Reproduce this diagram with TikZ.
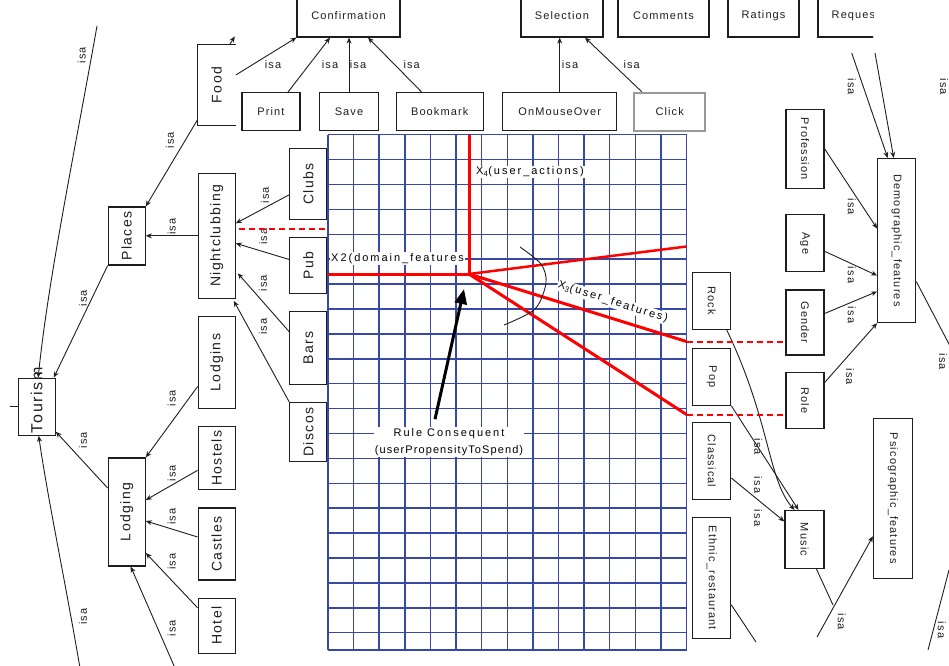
\documentclass[tikz,border=0pt]{standalone}
\usepackage{fontspec}
\setmainfont{Liberation Sans}[LetterSpace=10]
\newfontfamily\gridfont{Liberation Sans}[LetterSpace=18]
\usetikzlibrary{calc,arrows.meta}
\definecolor{gridblue}{RGB}{55,72,165}
\definecolor{ink}{RGB}{30,30,30}
\begin{document}
\begin{tikzpicture}[x=1pt,y=-1pt,
  box/.style={draw=ink, line width=1.2pt, inner sep=0pt, font=\fontsize{11}{13}\selectfont, text=ink},
  lbox/.style={box, font=\fontsize{14}{16}\selectfont},
  isa/.style={draw=ink, line width=0.9pt, -{Stealth[length=6pt,width=5pt]}},
  plain/.style={draw=ink, line width=0.9pt},
  lab/.style={font=\fontsize{11}{12}\selectfont, text=ink, inner sep=1pt},
  labl/.style={lab, rotate=90},
  labr/.style={lab, rotate=-90},
  redl/.style={draw=red, line width=3pt},
  reddash/.style={draw=red, line width=2pt, dash pattern=on 6pt off 4pt},
  gline/.style={draw=gridblue, line width=1.5pt},
  glab/.style={font=\gridfont\fontsize{11}{17}\selectfont, inner sep=1pt, fill=white, text=black}]

\useasboundingbox (0,0) rectangle (949,665);

% ---------- grid ----------
\foreach \i in {0,...,14} \draw[gline] ({328+\i*25.61},134.7) -- ({328+\i*25.61},650);
\foreach \j in {0,...,20} \draw[gline] (328,{134.7+\j*24.9}) -- (686.5,{134.7+\j*24.9});
\draw[gline] (328,650) -- (686.5,650);

% ---------- top row ----------
\node[box, minimum width=103pt, minimum height=42pt] (conf) at (348.5,16) {Confirmation};
\node[box, minimum width=82pt, minimum height=42pt] (sel) at (562,16) {Selection};
\node[box, minimum width=91pt, minimum height=42pt] (comm) at (663.5,16) {Comments};
\node[box, minimum width=71pt, minimum height=42pt] (rat) at (763.5,16) {Ratings};
\begin{scope}
  \clip (800,-5) rectangle (873,60);
  \node[box, minimum width=75pt, minimum height=42pt] (req) at (855.5,16) {Request};
\end{scope}

\node[box, minimum width=58pt, minimum height=38pt] (print) at (271,111.7) {Print};
\node[box, minimum width=59pt, minimum height=38pt] (save) at (349,111.7) {Save};
\node[box, minimum width=87pt, minimum height=38pt] (book) at (439.7,111.7) {Bookmark};
\node[box, minimum width=114pt, minimum height=38pt] (omo) at (559.7,111.7) {OnMouseOver};
\node[box, draw=gray!80, line width=2pt, minimum width=71pt, minimum height=38pt] (click) at (669.7,111.7) {Click};

% ---------- left side ----------
\node[lbox, draw=none, minimum width=37pt, minimum height=80pt] (food) at (216.7,85) {\rotatebox{90}{Food}};
\draw[ink, line width=1.2pt] (food.north east) -- (food.north west) -- (food.south west) -- (food.south east);
\node[lbox, minimum width=37pt, minimum height=58pt] (places) at (126.7,236) {\rotatebox{90}{Places}};
\node[lbox, minimum width=37pt, minimum height=125pt] (night) at (216.7,235.8) {\rotatebox{90}{Nightclubbing}};
\node[lbox, minimum width=37pt, minimum height=71pt] (clubs) at (308.3,183.8) {\rotatebox{90}{Clubs}};
\node[lbox, minimum width=37pt, minimum height=56pt] (pub) at (308.3,265.5) {\rotatebox{90}{Pub}};
\node[lbox, minimum width=37pt, minimum height=73pt] (bars) at (308.3,347.7) {\rotatebox{90}{Bars}};
\node[lbox, minimum width=37pt, minimum height=59pt] (discos) at (308.3,432) {\rotatebox{90}{Discos}};
\node[lbox, minimum width=37pt, minimum height=92pt] (lodgins) at (216.7,362.5) {\rotatebox{90}{Lodgins}};
\node[lbox, minimum width=37pt, minimum height=63pt] (hostels) at (216.7,458.3) {\rotatebox{90}{Hostels}};
\node[lbox, minimum width=37pt, minimum height=72pt] (castles) at (216.7,544) {\rotatebox{90}{Castles}};
\node[lbox, minimum width=37pt, minimum height=55pt] (hotel) at (216.7,625.8) {\rotatebox{90}{Hotel}};
\node[lbox, minimum width=37pt, minimum height=108pt] (lodging) at (126.7,512) {\rotatebox{90}{Lodging}};
\node[lbox, font=\fontsize{16}{18}\selectfont, minimum width=37pt, minimum height=57pt] (tourism) at (36.7,406.7) {\rotatebox{90}{\makebox[0pt]{\hspace{13pt}Tourism}}};

% ---------- right side ----------
\node[box, minimum width=38pt, minimum height=79pt] (prof) at (805,148.8) {\rotatebox{-90}{Profession}};
\node[box, minimum width=38pt, minimum height=57pt] (age) at (805,243.3) {\rotatebox{-90}{Age}};
\node[box, minimum width=38pt, minimum height=65pt] (gender) at (805,322.5) {\rotatebox{-90}{Gender}};
\node[box, minimum width=38pt, minimum height=56pt] (role) at (805,400.5) {\rotatebox{-90}{Role}};
\node[box, minimum width=38pt, minimum height=164pt] (demo) at (896.7,240.5) {\rotatebox{-90}{Demographic\_features}};
\node[box, minimum width=38pt, minimum height=57pt] (rock) at (711.7,300.8) {\rotatebox{-90}{Rock}};
\node[box, minimum width=38pt, minimum height=57pt] (pop) at (711.7,376.7) {\rotatebox{-90}{Pop}};
\node[box, minimum width=38pt, minimum height=77pt] (classical) at (711.7,461) {\rotatebox{-90}{Classical}};
\node[box, minimum width=38pt, minimum height=121pt] (ethnic) at (711.7,577.8) {\rotatebox{-90}{Ethnic\_restaurant}};
\node[box, minimum width=39pt, minimum height=58pt] (music) at (804.5,539.5) {\rotatebox{-90}{Music}};
\node[box, minimum width=39pt, minimum height=160pt] (psico) at (893,498.3) {\rotatebox{-90}{Psicographic\_features}};

% ---------- top connectors ----------
\draw[isa] ($(food.east)+(0,-10)$) -- (conf.south west);
\draw[isa] ($(food.north east)+(-6,0)$) -- ++(5,-8);
\draw[isa] ($(print.north)+(17,0)$) -- ($(conf.south)+(-18.5,0)$);
\draw[isa] (save.north) -- (save.north |- conf.south);
\draw[isa] ($(book.north)+(-18,0)$) -- ($(conf.south)+(19.5,0)$);
\draw[isa] (omo.north) -- (omo.north |- sel.south);
\draw[isa] ($(click.north)+(-28,0)$) -- ($(sel.south)+(23,0)$);
\node[lab] (t1) at (273,65) {isa};
\node[lab] (t2) at (330,65) {isa};
\node[lab] (t3) at (358,65) {isa};
\node[lab] (t4) at (411.7,65) {isa};
\node[lab] (t5) at (570,65) {isa};
\node[lab] (t6) at (631.7,65) {isa};

% ---------- left connectors ----------
\draw[isa] ($(food.south west)+(0,-6)$) -- (places.north east);
\draw[isa] (night.west) -- (night.west -| places.east);
\draw[isa] ($(clubs.west)+(0,11)$) -- ($(night.east)+(0,-12.5)$);
\draw[isa] ($(pub.west)+(0,-6)$) -- ($(night.east)+(0,7.5)$);
\draw[isa] ($(bars.west)+(0,-16)$) -- ($(night.east)+(2,37.5)$);
\draw[isa] (discos.north west) -- ($(night.south east)+(-2,2)$);
\draw[isa] ($(lodgins.west)+(0,24)$) -- (lodging.north east);
\draw[isa] ($(hostels.west)+(0,12)$) -- ($(lodging.east)+(0,-12)$);
\draw[isa] ($(castles.west)+(0,-7)$) -- ($(lodging.east)+(0,9)$);
\draw[isa] ($(hotel.west)+(0,-18)$) -- ($(lodging.east)+(0,41)$);
\coordinate (lb) at (175,668);
\draw[isa] (lb) -- ($(lodging.south)+(4,0)$);
\draw[isa] (places.south west) -- ($(tourism.north east)+(-2,0)$);
\draw[isa] ($(lodging.west)+(0,-24)$) -- ($(tourism.east)+(0,25)$);
\coordinate (tt) at (97,26);
\draw[isa] (tt) .. controls (75,150) and (48,280) .. ($(tourism.north)+(1.5,0)$);
\coordinate (tb) at (80,668);
\draw[isa] (tb) .. controls (65,580) and (48,500) .. ($(tourism.south)+(2,0)$);
\draw[plain] (tourism.west) -- ++(-8,0);

\node[labl] (u1) at (170,140) {isa};
\node[labl] (u2) at (171.7,226.7) {isa};
\node[labl] (u3) at (265,195) {isa};
\node[labl] (u4) at (263.3,236.7) {isa};
\node[labl] (u5) at (263,283) {isa};
\node[labl] (u6) at (263,326.7) {isa};
\node[labl] (u7) at (171.7,398.3) {isa};
\node[labl] (u8) at (171.7,473) {isa};
\node[labl] (u9) at (171.7,516.7) {isa};
\node[labl] (u10) at (171.7,561.7) {isa};
\node[labl] (u11) at (171.7,628) {isa};
\node[labl] (u12) at (83,298) {isa};
\node[labl] (u13) at (83,440) {isa};
\node[labl] (u14) at (81.7,55) {isa};
\node[labl] (u15) at (83,616.7) {isa};

% ---------- right connectors ----------
\draw[isa] (prof.east) -- ($(demo.west)+(0,-12)$);
\draw[isa] ($(age.east)+(0,8)$) -- ($(demo.west)+(0,35)$);
\draw[isa] ($(gender.east)+(0,-9)$) -- ($(demo.west)+(0,51)$);
\draw[isa] ($(role.east)+(0,-18)$) -- (demo.south west);
\coordinate (dt1) at (851.7,53);
\coordinate (dt2) at (875,53);
\draw[isa] (dt1) -- ($(demo.north)+(-9,0)$);
\draw[isa] (dt2) -- ($(demo.north)+(-3,0)$);
\coordinate (dr) at (950,346);
\draw[plain] ($(demo.east)+(0,41)$) -- (dr);
\draw[isa] ($(rock.south)+(15,0)$) .. controls (770,420) and (768,480) .. ($(music.north)+(-10,0)$);
\draw[isa] (pop.south east) -- ($(music.north)+(-6,0)$);
\draw[isa] ($(classical.east)+(0,17)$) -- ($(music.west)+(0,-18)$);
\coordinate (mb) at (833,605);
\draw[plain] ($(music.south)+(12,0)$) -- (mb);
\coordinate (pb) at (817,637);
\draw[isa] (pb) -- ($(psico.west)+(0,38)$);
\coordinate (eb) at (756,642);
\draw[plain] ($(ethnic.east)+(0,27)$) -- (eb);
\coordinate (rb1) at (949,570);
\coordinate (rb2) at (928,650);
\draw[plain] (rb1) -- (rb2);

\node[labr] (v1) at (851.7,206.7) {isa};
\node[labr] (v2) at (851.7,275) {isa};
\node[labr] (v3) at (851.7,315) {isa};
\node[labr] (v4) at (850,376.7) {isa};
\node[labr] (v5) at (851.7,86.7) {isa};
\node[labr] (v6) at (944,86.7) {isa};
\node[labr] (v7) at (943,361.7) {isa};
\node[labr] (v8) at (758.3,446.7) {isa};
\node[labr] (v9) at (758,485) {isa};
\node[labr] (v10) at (758,518) {isa};
\node[labr] (v11) at (841.7,621.7) {isa};
\node[labr] (v12) at (941.7,630) {isa};

% ---------- grid labels ----------
\node[glab, anchor=west] (x4) at (475,172) {X\textsubscript{4}(user\_actions)};
\node[glab, anchor=west] (x2) at (330,258.5) {X2(domain\_features};
\node[glab, rotate=-17.5] (x3) at (613,302) {X\textsubscript{3}(user\_features)};
\node[glab, align=center] (rule) at (449,442) {Rule Consequent\\\normalfont\fontsize{11}{17}\selectfont(userPropensityToSpend)};

% ---------- red lines ----------
\coordinate (O) at (469,274);
\coordinate (gtop) at (469,134.7);
\coordinate (gleft) at (328,274);
\coordinate (r1) at (686.5,246.5);
\coordinate (r2) at (686.5,341.5);
\coordinate (r3) at (686.5,414.5);
\draw[redl] (gtop) -- (O);
\draw[redl] (gleft) -- (O);
\draw[redl, line width=2.5pt] (O) -- (r1);
\draw[redl] (O) -- (r2);
\draw[redl] (O) -- (r3);
\draw[reddash] (r2) -- (r2 -| gender.west);
\draw[reddash] (r3) -- (r3 -| role.west);
\coordinate (gd) at (328,228.8);
\draw[reddash] ($(night.east)+(3,-7)$) -- (gd);

% ---------- angle mark and consequent arrow ----------
\draw[ink, line width=0.9pt] plot[smooth] coordinates {(520,247) (541,264) (546,283) (535,309) (504,325)};
\draw[black, line width=3pt, -{Triangle[length=15pt,width=12pt]}] ($(rule.north)+(-14,-8)$) -- ($(O)+(-5,15)$);
\end{tikzpicture}
\end{document}
